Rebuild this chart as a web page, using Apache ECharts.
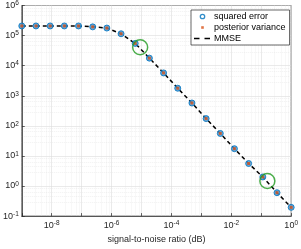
<!DOCTYPE html>
<html><head><meta charset="utf-8">
<script src="https://cdn.jsdelivr.net/npm/echarts@6/dist/echarts.min.js"></script>
<style>html,body{margin:0;padding:0;background:#fff}#c{width:301px;height:249px}</style>
</head><body><div id="c"></div>
<script>
const snr = [1e-9, 2.98e-9, 8.86e-9, 2.64e-8, 7.85e-8, 2.34e-7, 6.95e-7, 2.07e-6, 6.16e-6, 1.83e-5,
  5.46e-5, 1.62e-4, 4.83e-4, 1.44e-3, 4.28e-3, 1.27e-2, 3.79e-2, 0.113, 0.336, 1];
const squaredError = [2.09e5, 2.09e5, 2.09e5, 2.09e5, 2.09e5, 1.95e5, 1.78e5, 1.15e5, 5.5e4, 1.78e4,
  5750, 1780, 575, 174, 56, 17.4, 5.6, 2.0, 0.60, 0.195];
const posteriorVariance = [2.09e5, 2.09e5, 2.09e5, 2.09e5, 2.09e5, 1.95e5, 1.78e5, 1.15e5, 5.5e4, 1.78e4,
  5750, 1780, 575, 174, 56, 17.4, 5.6, 2.0, 0.60, 0.195];
const mmse = [2.09e5, 2.09e5, 2.09e5, 2.09e5, 2.09e5, 1.95e5, 1.78e5, 1.15e5, 5.5e4, 1.78e4,
  5750, 1780, 575, 174, 56, 17.4, 5.6, 2.0, 0.60, 0.195];
const highlightX = [9e-6, 0.16];
const highlightY = [4.1e4, 1.47];
const xTickExps = [-8, -6, -4, -2, 0];

const pair = (xs, ys) => xs.map((x, i) => [x, ys[i]]);
const font = 'Liberation Sans, Arial, sans-serif';
const rich = { b: { fontSize: 9, fontFamily: font, color: '#262626' }, s: { fontSize: 6.5, fontFamily: font, color: '#262626', verticalAlign: 'top', padding: [0,0,4,0] } };
const expLabel = v => { const e = Math.round(Math.log10(v)); return '{b|10}{s|' + e + '}'; };
const svgIcon = body => 'image://data:image/svg+xml;charset=utf-8,' + encodeURIComponent(
  '<svg xmlns="http://www.w3.org/2000/svg" width="17" height="8" viewBox="0 0 17 8">' + body + '</svg>');
const iconSE = svgIcon('<circle cx="8.5" cy="4" r="2.2" fill="#fff" stroke="#0072BD" stroke-width="1.3"/>');
const iconPV = svgIcon('<rect x="7.2" y="2.7" width="2.6" height="2.6" fill="#D95319"/>');
const iconMM = svgIcon('<line x1="0" y1="4" x2="17" y2="4" stroke="#000" stroke-width="1.5" stroke-dasharray="5.5 5"/>');

const chart = echarts.init(document.getElementById('c'), null, { renderer: 'canvas' });
chart.setOption({
  animation: false,
  grid: { left: 20, right: 7, top: 4, bottom: 29, show: true, borderColor: '#262626', borderWidth: 0.7 },
  xAxis: {
    type: 'log', logBase: 10, min: 1e-9, max: 1, splitNumber: 9,
    name: 'signal-to-noise ratio (dB)', nameLocation: 'middle', nameGap: 17,
    nameTextStyle: { fontSize: 9, fontFamily: font, color: '#262626' },
    axisLine: { lineStyle: { color: '#262626', width: 0.7 } },
    axisTick: { inside: true, length: 3, lineStyle: { color: '#262626', width: 0.7 } },
    minorTick: { show: false },
    splitLine: { show: true, lineStyle: { color: '#dcdcdc', width: 0.6 } },
    minorSplitLine: { show: true, lineStyle: { color: '#e3e3e3', width: 0.5, type: [1, 1] } },
    axisLabel: { margin: 4, rich: rich, formatter: v => { const e = Math.round(Math.log10(v)); return xTickExps.includes(e) ? expLabel(v) : ''; } }
  },
  yAxis: {
    type: 'log', logBase: 10, min: 0.1, max: 1e6, splitNumber: 7,
    axisLine: { lineStyle: { color: '#262626', width: 0.7 } },
    axisTick: { inside: true, length: 3, lineStyle: { color: '#262626', width: 0.7 } },
    splitLine: { show: true, lineStyle: { color: '#dcdcdc', width: 0.6 } },
    minorSplitLine: { show: true, lineStyle: { color: '#e3e3e3', width: 0.5, type: [1, 1] } },
    axisLabel: { margin: 3, rich: rich, formatter: expLabel }
  },
  legend: {
    orient: 'vertical', left: 191, top: 10, itemWidth: 17, itemHeight: 8, itemGap: 2,
    padding: [2, 4, 2, 3], backgroundColor: '#fff', borderColor: '#262626', borderWidth: 0.7, borderRadius: 0,
    textStyle: { fontSize: 9, fontFamily: font, color: '#000', padding: [0, 0, 0, -2] },
    data: [
      { name: 'squared error', icon: iconSE },
      { name: 'posterior variance', icon: iconPV },
      { name: 'MMSE', icon: iconMM }
    ]
  },
  series: [
    { name: 'MMSE', type: 'line', data: pair(snr, mmse), symbol: 'none', z: 2,
      lineStyle: { color: '#000', width: 1.5, type: [4, 3] }, itemStyle: { color: '#000' } },
    { name: 'squared error', type: 'scatter', data: pair(snr, squaredError), symbol: 'circle', symbolSize: 6, z: 3,
      itemStyle: { color: '#3d95d4', borderColor: '#0072BD', borderWidth: 1 } },
    { name: 'posterior variance', type: 'scatter', data: pair(snr, posteriorVariance), symbol: 'rect', symbolSize: 3, z: 4,
      itemStyle: { color: '#D95319' } },
    { name: 'highlight', type: 'scatter', data: pair(highlightX, highlightY), symbol: 'circle', symbolSize: 15, z: 5,
      itemStyle: { color: 'rgba(0,0,0,0)', borderColor: '#1f9a1f', borderWidth: 1.5 } }
  ]
});
</script></body></html>
